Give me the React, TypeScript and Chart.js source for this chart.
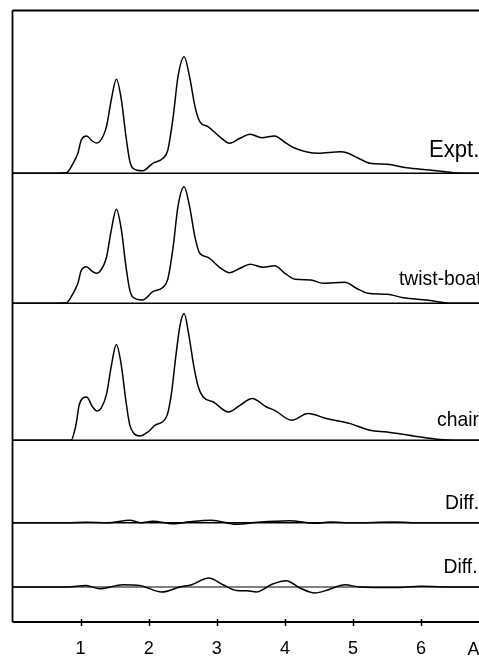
import { useEffect, useRef } from 'react';
import { Chart, registerables } from 'chart.js';

Chart.register(...registerables);

// x axis (r, Å)
const tickValues = [1, 2, 3, 4, 5, 6];
const tickLabels = ['1', '2', '3', '4', '5', '6'];
const unitLabel = 'A';
const seriesNames = ['Expt.', 'twist-boat', 'chair', 'Diff.', 'Diff.'];
// vertical offsets of each trace (same units as the data)
const offsets = [44.87, 31.87, 18.17, 9.92, 3.5];

const rExpt = [0, 0.4, 0.79, 0.89, 0.96, 1.01, 1.09, 1.16, 1.23, 1.28, 1.38, 1.45, 1.525, 1.6, 1.66, 1.72, 1.77, 1.91, 2.06, 2.21, 2.28, 2.36, 2.43, 2.52, 2.6, 2.68, 2.75, 2.87, 3.04, 3.19, 3.34, 3.49, 3.66, 3.85, 4.0, 4.15, 4.49, 4.81, 4.91, 5.08, 5.25, 5.5, 5.79, 6.13, 6.47, 6.85];
const gExpt = [0, 0, 0.06, 1.0, 2.0, 3.33, 3.73, 3.3, 3.03, 3.17, 4.67, 7.33, 9.4, 7.3, 4.0, 1.3, 0.5, 0.26, 1.0, 1.5, 2.3, 5.67, 9.67, 11.66, 9.67, 6.67, 5.17, 4.67, 3.67, 3.0, 3.5, 3.9, 3.56, 3.73, 3.1, 2.5, 2.0, 2.16, 2.06, 1.5, 1.0, 0.9, 0.56, 0.33, 0.06, 0];

const rTwist = [0, 0.4, 0.79, 0.89, 0.96, 1.01, 1.09, 1.16, 1.23, 1.28, 1.38, 1.45, 1.525, 1.6, 1.66, 1.72, 1.77, 1.91, 2.06, 2.21, 2.28, 2.36, 2.43, 2.52, 2.6, 2.68, 2.75, 2.87, 3.04, 3.19, 3.34, 3.49, 3.68, 3.85, 4.0, 4.15, 4.38, 4.56, 4.88, 5.05, 5.22, 5.5, 5.74, 6.08, 6.47, 6.85];
const gTwist = [0, 0, 0.06, 1.0, 2.0, 3.3, 3.66, 3.25, 3.0, 3.15, 4.6, 7.3, 9.4, 7.3, 4.0, 1.4, 0.6, 0.33, 1.16, 1.6, 2.4, 5.7, 9.7, 11.66, 9.7, 6.6, 5.0, 4.6, 3.6, 3.06, 3.5, 3.9, 3.6, 3.76, 3.0, 2.4, 2.33, 2.0, 2.1, 1.5, 1.0, 0.9, 0.56, 0.33, 0, 0];

const rChair = [0, 0.4, 0.86, 0.93, 0.985, 1.09, 1.17, 1.24, 1.3, 1.38, 1.45, 1.525, 1.6, 1.66, 1.72, 1.78, 1.87, 2.0, 2.09, 2.26, 2.33, 2.4, 2.46, 2.52, 2.59, 2.66, 2.73, 2.8, 2.95, 3.17, 3.34, 3.52, 3.73, 3.85, 4.1, 4.34, 4.61, 4.96, 5.25, 5.5, 5.89, 6.28, 6.5, 6.85];
const gChair = [0, 0, 0, 1.5, 3.67, 4.33, 3.4, 2.93, 3.2, 4.6, 7.4, 9.57, 7.4, 4.2, 1.6, 0.7, 0.43, 0.9, 1.5, 2.33, 4.5, 8.5, 11.5, 12.67, 10.5, 7.5, 5.3, 4.33, 3.83, 2.83, 3.5, 4.17, 3.33, 3.0, 2.0, 2.67, 2.17, 1.67, 1.0, 0.83, 0.43, 0.07, 0, 0];

const rDiff1 = [0, 0.8, 1.09, 1.4, 1.72, 1.89, 2.06, 2.36, 2.6, 2.92, 3.29, 3.6, 4.07, 4.44, 4.66, 5.0, 5.6, 6.0, 6.85];
const gDiff1 = [0, 0, 0.05, 0, 0.25, 0, 0.15, -0.1, 0.1, 0.25, -0.15, 0.05, 0.2, -0.05, 0.07, 0, 0.07, 0, 0];

const rDiff2 = [0, 0.8, 1.08, 1.28, 1.62, 1.87, 2.19, 2.46, 2.63, 2.88, 3.09, 3.29, 3.44, 3.58, 3.82, 4.02, 4.22, 4.44, 4.64, 4.88, 5.1, 5.6, 6.0, 6.5, 6.85];
const gDiff2 = [0, 0, 0.15, -0.17, 0.23, 0.15, -0.5, 0, 0.23, 0.9, 0.23, -0.34, -0.37, -0.5, 0.3, 0.63, -0.1, -0.6, -0.27, 0.23, 0, -0.05, 0.07, 0, 0];

const X_MIN = 0;
const X_MAX = 6.85;
const Y_MAX = 61.15;

const FONT = '"Liberation Sans", Arial, Helvetica, sans-serif';

const curves = [
  { r: rExpt, g: gExpt },
  { r: rTwist, g: gTwist },
  { r: rChair, g: gChair },
  { r: rDiff1, g: gDiff1 },
  { r: rDiff2, g: gDiff2 },
];

const labelStyle = [
  { x: 429, y: 156.7, size: 24 },
  { x: 399, y: 285, size: 21 },
  { x: 437, y: 426, size: 21 },
  { x: 445, y: 509.3, size: 21 },
  { x: 443.5, y: 573.3, size: 21 },
];

const framePlugin = {
  id: 'frame',
  afterDraw(chart: any) {
    const { ctx, chartArea } = chart;
    const xs = chart.scales.x;
    ctx.save();
    ctx.strokeStyle = '#000';
    ctx.lineWidth = 1.8;
    ctx.beginPath();
    ctx.moveTo(chartArea.left, chartArea.top);
    ctx.lineTo(chartArea.left, chartArea.bottom);
    ctx.moveTo(chartArea.left, chartArea.top);
    ctx.lineTo(chart.width, chartArea.top);
    ctx.moveTo(chartArea.left, chartArea.bottom);
    ctx.lineTo(chart.width, chartArea.bottom);
    ctx.stroke();
    ctx.lineWidth = 1.5;
    ctx.beginPath();
    tickValues.forEach((v) => {
      const px = Math.round(xs.getPixelForValue(v)) + 0.5;
      ctx.moveTo(px, chartArea.bottom - 3);
      ctx.lineTo(px, chartArea.bottom + 4);
    });
    ctx.stroke();
    ctx.fillStyle = '#000';
    ctx.textBaseline = 'alphabetic';
    ctx.textAlign = 'left';
    seriesNames.forEach((name, i) => {
      const s = labelStyle[i];
      ctx.save();
      ctx.translate(s.x, s.y);
      ctx.scale(0.92, 1);
      ctx.font = `${s.size}px ${FONT}`;
      ctx.fillText(name, 0, 0);
      ctx.restore();
    });
    ctx.font = `18px ${FONT}`;
    ctx.fillText(unitLabel, 467.5, 654.5);
    ctx.restore();
  },
};

export default function App() {
  const ref = useRef<HTMLCanvasElement | null>(null);

  useEffect(() => {
    if (!ref.current) return;
    const datasets: any[] = [];
    curves.forEach((c, i) => {
      const off = offsets[i];
      datasets.push({
        label: seriesNames[i] + ' baseline',
        data: [
          { x: X_MIN, y: off },
          { x: X_MAX, y: off },
        ],
        borderColor: '#000',
        borderWidth: i === 4 ? 1.1 : 1.6,
        pointRadius: 0,
        fill: false,
      });
      datasets.push({
        label: seriesNames[i],
        data: c.r.map((x, k) => ({ x, y: c.g[k] + off })),
        borderColor: '#000',
        borderWidth: 1.5,
        pointRadius: 0,
        fill: false,
        cubicInterpolationMode: 'monotone',
      });
    });

    const chart = new Chart(ref.current, {
      type: 'line',
      data: { datasets },
      options: {
        responsive: false,
        animation: false,
        events: [],
        layout: { padding: { left: 12.5, top: 10.5, right: 0, bottom: 0 } },
        plugins: { legend: { display: false }, tooltip: { enabled: false } },
        scales: {
          x: {
            type: 'linear',
            min: X_MIN,
            max: X_MAX,
            grid: { display: false, drawTicks: false },
            border: { display: false },
            afterBuildTicks: (scale: any) => {
              scale.ticks = tickValues.map((v) => ({ value: v }));
            },
            afterFit: (scale: any) => {
              scale.height = 34;
            },
            ticks: {
              autoSkip: false,
              maxRotation: 0,
              padding: 16.5,
              color: '#000',
              font: { family: FONT, size: 18 },
              callback: (v: any) => {
                const idx = tickValues.indexOf(Number(v));
                return idx >= 0 ? tickLabels[idx] : '';
              },
            },
          },
          y: {
            type: 'linear',
            min: 0,
            max: Y_MAX,
            display: false,
          },
        },
      },
      plugins: [framePlugin],
    });
    return () => chart.destroy();
  }, []);

  return (
    <div style={{ position: 'fixed', left: 0, top: 0, width: 479, height: 656, background: '#fff' }}>
      <canvas ref={ref} width={479} height={656} style={{ display: 'block' }} />
    </div>
  );
}
